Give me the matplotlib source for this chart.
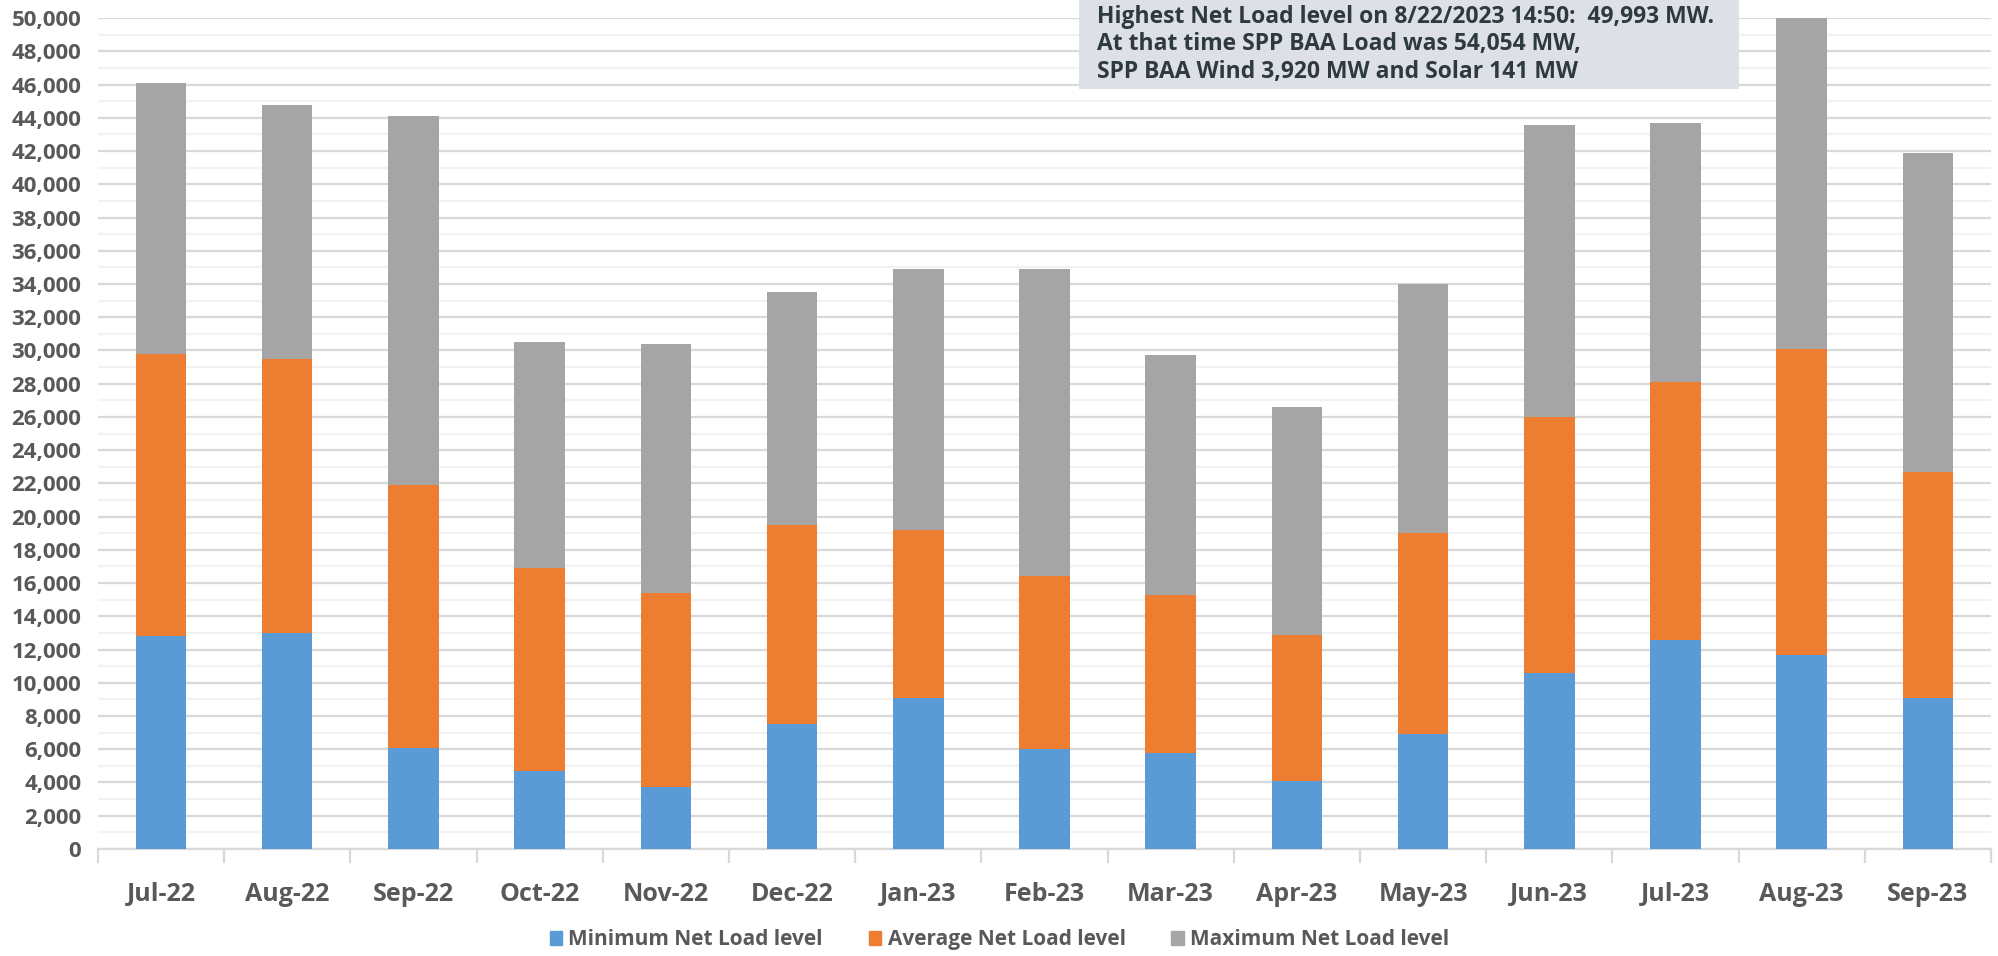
import matplotlib
import matplotlib.pyplot as plt
import numpy as np
from matplotlib.ticker import FuncFormatter, MultipleLocator
from matplotlib.patches import Patch, Rectangle

matplotlib.rcParams['font.family'] = ['Open Sans', 'DejaVu Sans']

months = ['Jul-22', 'Aug-22', 'Sep-22', 'Oct-22', 'Nov-22', 'Dec-22', 'Jan-23', 'Feb-23',
          'Mar-23', 'Apr-23', 'May-23', 'Jun-23', 'Jul-23', 'Aug-23', 'Sep-23']
max_load = [46100, 44800, 44100, 30500, 30400, 33500, 34900, 34900,
            29700, 26600, 34000, 43600, 43700, 49993, 41900]
avg_load = [29800, 29500, 21900, 16900, 15400, 19500, 19200, 16400,
            15300, 12900, 19000, 26000, 28100, 30100, 22700]
min_load = [12800, 13000, 6100, 4700, 3700, 7500, 9100, 6000,
            5800, 4100, 6900, 10600, 12600, 11700, 9100]

C_MIN = '#5b9bd5'
C_AVG = '#ed7d31'
C_MAX = '#a5a5a5'
TXT = '#595959'

fig = plt.figure(figsize=(19.99, 9.56), dpi=100)
ax = fig.add_axes([0.049, 0.112, 0.947, 0.869])

x = np.arange(len(months))
w = 0.4
# overlapping bars, each drawn from zero
ax.bar(x, max_load, w, color=C_MAX, zorder=3)
ax.bar(x, avg_load, w, color=C_AVG, zorder=4)
ax.bar(x, min_load, w, color=C_MIN, zorder=5)

ax.set_xlim(-0.5, len(months) - 0.5)
ax.set_ylim(0, 50000)
ax.yaxis.set_major_locator(MultipleLocator(2000))
ax.yaxis.set_minor_locator(MultipleLocator(1000))
ax.yaxis.set_major_formatter(FuncFormatter(lambda v, p: f'{int(v):,}'))
ax.grid(axis='y', which='major', color='#d9d9d9', lw=1.6, zorder=0)
ax.grid(axis='y', which='minor', color='#f2f2f2', lw=1.6, zorder=0)
ax.set_axisbelow(True)

ax.set_xticks(x)
ax.set_xticklabels(months)
ax.set_xticks(np.arange(-0.5, len(months)), minor=True)
ax.tick_params(axis='x', which='major', length=0, pad=24, labelsize=18, labelcolor=TXT)
ax.tick_params(axis='x', which='minor', length=10, width=1.6, color='#d9d9d9')
ax.tick_params(axis='y', which='both', length=0, pad=12, labelsize=16, labelcolor=TXT)
for lab in ax.get_xticklabels() + ax.get_yticklabels():
    lab.set_fontweight('bold')

for s in ['top', 'right', 'left']:
    ax.spines[s].set_visible(False)
ax.spines['bottom'].set_color('#d9d9d9')
ax.spines['bottom'].set_linewidth(1.6)

# annotation box
fig.patches.append(Rectangle((0.540, 0.907), 0.330, 0.093, transform=fig.transFigure,
                             fc='#dde1e5', ec='none', zorder=9))
fig.text(0.549, 0.995,
         'Highest Net Load level on 8/22/2023 14:50:  49,993 MW.\n'
         'At that time SPP BAA Load was 54,054 MW,\n'
         'SPP BAA Wind 3,920 MW and Solar 141 MW',
         ha='left', va='top', fontsize=16.5, fontweight='bold', color='#2e3a40',
         linespacing=1.2, zorder=10)

handles = [Patch(color=C_MIN), Patch(color=C_AVG), Patch(color=C_MAX)]
labels = ['Minimum Net Load level', 'Average Net Load level', 'Maximum Net Load level']
leg = fig.legend(handles, labels, loc='center', bbox_to_anchor=(0.5, 0.017), ncol=3,
                 frameon=False, fontsize=15, handlelength=0.6, handleheight=0.6,
                 handletextpad=0.3, columnspacing=2.2)
for t in leg.get_texts():
    t.set_color(TXT)
    t.set_fontweight('bold')

fig.savefig('out.png', dpi=100)
